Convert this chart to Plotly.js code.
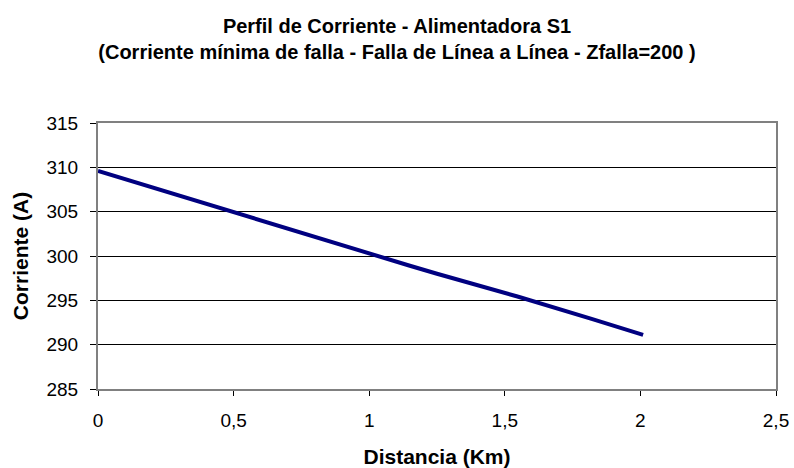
<!DOCTYPE html>
<html>
<head>
<meta charset="utf-8">
<script src="https://cdn.plot.ly/plotly-3.0.1.min.js"></script>
<style>
  html, body { margin: 0; padding: 0; background: #fff; }
  #chart { width: 794px; height: 468px; }
</style>
</head>
<body>
<div id="chart"></div>
<script>
// distancia (km) y corriente (A)
const distancia = [0, 0.3, 0.43, 0.7, 1.0, 1.15, 1.25, 1.55, 1.82, 2.01];
const corriente = [309.6, 306.8, 305.6, 303.1, 300.2, 298.9, 298.0, 295.4, 292.9, 291.1];

const xTicks = [0, 0.5, 1, 1.5, 2, 2.5];
const yTicks = [285, 290, 295, 300, 305, 310, 315];

const FONT = 'Liberation Sans, Arial, sans-serif';

const trace = {
    x: distancia,
    y: corriente,
    mode: 'lines',
    line: { color: '#000080', width: 4 },
    hoverinfo: 'x+y'
};

const layout = {
    width: 794,
    height: 468,
    margin: { l: 98, r: 18, t: 123, b: 79 },
    paper_bgcolor: '#ffffff',
    plot_bgcolor: '#ffffff',
    separators: ',.',
    showlegend: false,
    font: { family: FONT, size: 19, color: '#000' },
    title: {
        text: '<b>Perfil de Corriente - Alimentadora S1<br>(Corriente mínima de falla - Falla de Línea a Línea - Zfalla=200 )</b>',
        font: { family: FONT, size: 20, color: '#000' },
        x: 0.5,
        xanchor: 'center',
        xref: 'container',
        y: 0.93,
        yanchor: 'top'
    },
    xaxis: {
        range: [0, 2.5],
        tickvals: xTicks,
        ticks: 'outside',
        ticklen: 5,
        tickcolor: '#000',
        ticklabelstandoff: 8,
        showgrid: false,
        zeroline: false,
        showline: true,
        linecolor: '#808080',
        linewidth: 2,
        mirror: true,
        tickfont: { family: FONT, size: 19 },
        title: { text: '<b>Distancia (Km)</b>', font: { family: FONT, size: 21 }, standoff: 20 }
    },
    yaxis: {
        range: [285, 315],
        tickvals: yTicks,
        ticks: 'outside',
        ticklen: 6,
        tickcolor: '#000',
        ticklabelstandoff: 8,
        showgrid: true,
        gridcolor: '#000',
        gridwidth: 1,
        zeroline: false,
        showline: true,
        linecolor: '#808080',
        linewidth: 2,
        mirror: true,
        tickfont: { family: FONT, size: 19 },
        title: { text: '<b>Corriente (A)</b>', font: { family: FONT, size: 21 }, standoff: 12 }
    }
};

Plotly.newPlot('chart', [trace], layout, { displayModeBar: false, staticPlot: true });
</script>
</body>
</html>
